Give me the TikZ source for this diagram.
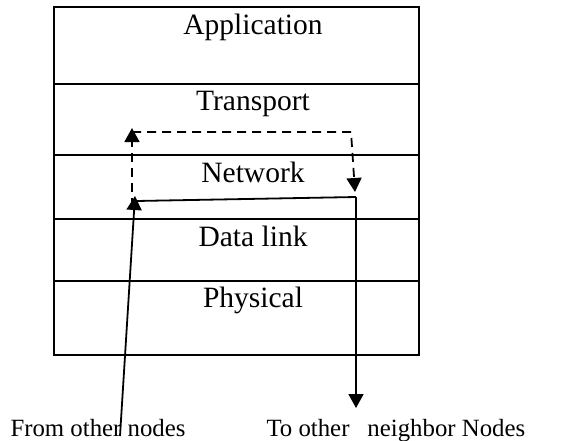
\documentclass[tikz,border=0pt]{standalone}
\usepackage{fontspec}
\setmainfont{Liberation Serif}
\usepackage{tikz}
\usetikzlibrary{arrows.meta}

\tikzset{
    layertext/.style={anchor=base, font=\fontsize{29.5}{33}\selectfont},
    sidetext/.style={anchor=base west, font=\fontsize{24.8}{28}\selectfont},
    flow/.style={line width=1.8pt, -{Triangle[length=14pt,width=15pt]}},
}

\begin{document}
\begin{tikzpicture}[x=1pt, y=-1pt]
        \useasboundingbox (0,0) rectangle (564,440);

        % Capas de la pila
        \foreach \top/\bot in {7/84, 84/155, 155/219, 219/281, 281/355}
            \draw[line width=2.2pt] (54,\top) rectangle (419,\bot);

        % Nombres de las capas
        \foreach \name/\y/\txt in {app/34/Application, trans/110/Transport,
                                   net/182/Network, link/246/Data link, phys/307/Physical}
            \node[layertext] (\name) at (253,\y) {\txt};

        % Puntos de las flechas
        \coordinate (inbot)  at (120,436);
        \coordinate (intip)  at (135,196);
        \coordinate (injoin) at (136,201);
        \coordinate (outtop) at (356,197);
        \coordinate (outtip) at (356,408);
        \coordinate (upbot)  at (132,207);
        \coordinate (uptip)  at (132,128);
        \coordinate (upcor)  at (132,132);
        \coordinate (dncor)  at (351,132);
        \coordinate (dntip)  at (355,192);

        % Camino real del paquete
        \draw[flow] (inbot) -- (intip);
        \draw[line width=1.8pt] (injoin) -- (outtop);
        \draw[flow] (outtop) -- (outtip);

        % Camino logico (discontinuo)
        \draw[flow, dash pattern=on 9pt off 6pt] (upbot) -- (uptip);
        \draw[flow, dash pattern=on 9pt off 6pt] (upcor) -- (dncor) -- (dntip);

        % Etiquetas de abajo
        \node[sidetext] (from) at (7,436) {From other nodes};
        \node[sidetext] (to) at (263,436) {To other\hspace{18pt}neighbor Nodes};
    \end{tikzpicture}
\end{document}
